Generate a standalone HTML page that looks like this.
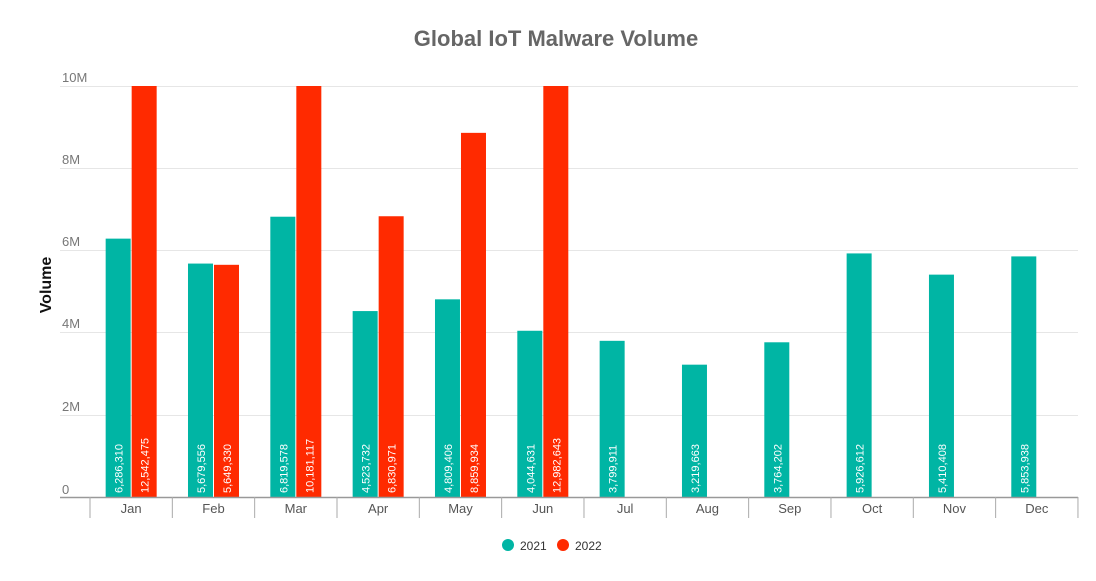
<!DOCTYPE html>
<html><head><meta charset="utf-8"><style>
body{margin:0;background:#fff;}
svg text{font-family:"Liberation Sans",sans-serif;}
</style></head><body>
<svg width="1096" height="576" viewBox="0 0 1096 576" xmlns="http://www.w3.org/2000/svg">
<rect width="1096" height="576" fill="#fff"/>
<text x="556" y="46" text-anchor="middle" font-size="22" font-weight="bold" fill="#666">Global IoT Malware Volume</text>
<text transform="translate(51,285) rotate(-90)" text-anchor="middle" font-size="16" font-weight="bold" fill="#111">Volume</text>
<g stroke="#e6e6e6" stroke-width="1">
<line x1="60" x2="1078" y1="86.5" y2="86.5"/>
<line x1="60" x2="1078" y1="168.5" y2="168.5"/>
<line x1="60" x2="1078" y1="250.5" y2="250.5"/>
<line x1="60" x2="1078" y1="332.5" y2="332.5"/>
<line x1="60" x2="1078" y1="415.5" y2="415.5"/>
</g>
<g font-size="13" fill="#777">
<text x="62" y="82">10M</text>
<text x="62" y="164">8M</text>
<text x="62" y="246">6M</text>
<text x="62" y="328">4M</text>
<text x="62" y="411">2M</text>
<text x="62" y="494">0</text>
</g>
<g id="bars"></g>
<line x1="60" x2="1078" y1="497.5" y2="497.5" stroke="#999" stroke-width="1.5"/>
<g id="ticks" stroke="#aaa" stroke-width="1"></g>
<g id="months" font-size="13" fill="#555" text-anchor="middle"></g>
<circle cx="508" cy="545" r="6" fill="#00b5a4"/>
<text x="520" y="550" font-size="12" fill="#333">2021</text>
<circle cx="563" cy="545" r="6" fill="#ff2a00"/>
<text x="575" y="550" font-size="12" fill="#333">2022</text>
</svg>
<script>
const ns="http://www.w3.org/2000/svg";
const m=["Jan","Feb","Mar","Apr","May","Jun","Jul","Aug","Sep","Oct","Nov","Dec"];
const a=[6286310,5679556,6819578,4523732,4809406,4044631,3799911,3219663,3764202,5926612,5410408,5853938];
const b=[12542475,5649330,10181117,6830971,8859934,12982643];
const base=497,ppm=41.1,cw=82.33,x0=90;
const bars=document.getElementById("bars"),ticks=document.getElementById("ticks"),mo=document.getElementById("months");
function el(t,at,p){const e=document.createElementNS(ns,t);for(const k in at)e.setAttribute(k,at[k]);p.appendChild(e);return e;}
function bar(x,v,c){const h=Math.min(v,10e6)/1e6*ppm;el("rect",{x:x,y:base-h,width:25,height:h,fill:c},bars);
const t=el("text",{transform:`translate(${x+17},${base-4}) rotate(-90)`,"font-size":"11",fill:"#fff"},bars);t.textContent=v.toLocaleString("en-US");}
for(let i=0;i<12;i++){const c=x0+(i+0.5)*cw;bar(c-25.5,a[i],"#00b5a4");if(i<6)bar(c+0.5,b[i],"#ff2a00");
el("line",{x1:x0+i*cw,x2:x0+i*cw,y1:497,y2:518},ticks);
const t=el("text",{x:c,y:513},mo);t.textContent=m[i];}
el("line",{x1:x0+12*cw,x2:x0+12*cw,y1:497,y2:518},ticks);
</script>
</body></html>
